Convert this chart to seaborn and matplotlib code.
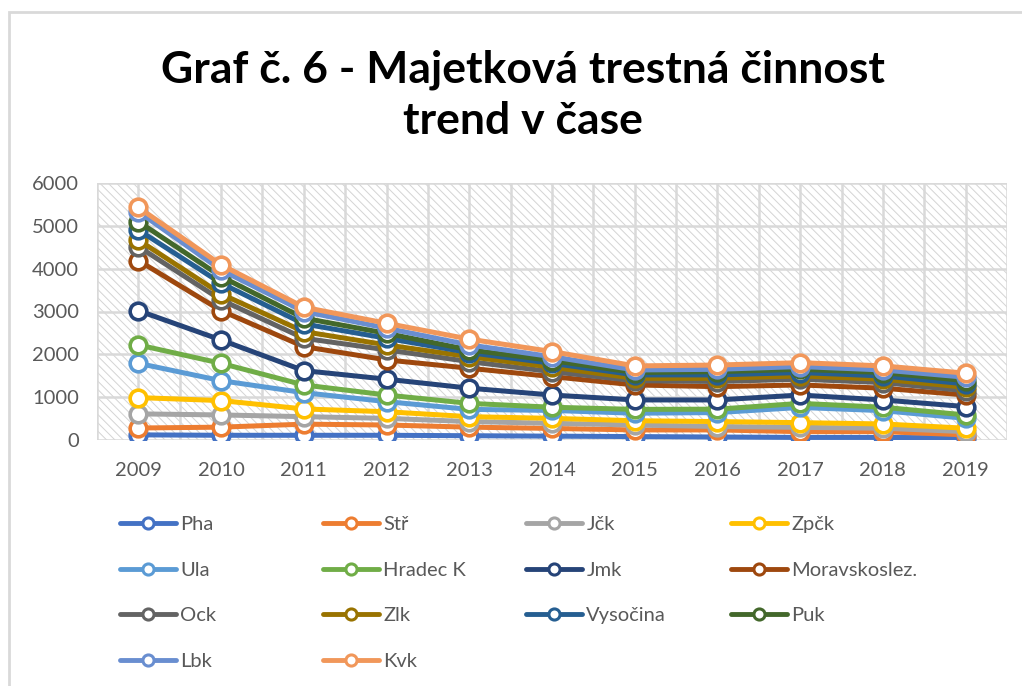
import numpy as np
import pandas as pd
import matplotlib
matplotlib.use("Agg")
import matplotlib.pyplot as plt
import seaborn as sns
from matplotlib.patches import Rectangle
from matplotlib.lines import Line2D

# ---- data ----
years = [2009, 2010, 2011, 2012, 2013, 2014, 2015, 2016, 2017, 2018, 2019]
regions = ["Pha", "Stř", "Jčk", "Zpčk", "Ula", "Hradec K", "Jmk", "Moravskoslez.",
           "Ock", "Zlk", "Vysočina", "Puk", "Lbk", "Kvk"]
pha = [120, 110, 110, 110, 100, 90, 80, 70, 60, 60, 50]
str_ = [160, 190, 260, 240, 200, 180, 155, 165, 135, 135, 70]
jck = [330, 285, 175, 155, 130, 120, 115, 80, 100, 80, 75]
zpck = [380, 335, 180, 155, 115, 115, 100, 115, 110, 100, 80]
ula = [800, 465, 380, 235, 170, 185, 175, 210, 355, 310, 230]
hradec = [430, 405, 180, 155, 140, 75, 90, 80, 95, 80, 80]
jmk = [800, 545, 335, 370, 355, 285, 220, 215, 195, 170, 195]
morav = [1170, 685, 560, 450, 465, 430, 350, 310, 235, 275, 270]
ock = [325, 250, 195, 235, 155, 115, 100, 120, 135, 130, 100]
zlk = [155, 140, 155, 115, 115, 105, 55, 75, 75, 80, 80]
vys = [235, 250, 180, 155, 95, 90, 80, 80, 80, 75, 80]
puk = [195, 155, 135, 115, 65, 65, 55, 75, 75, 80, 75]
lbk = [230, 155, 155, 120, 115, 90, 60, 55, 65, 60, 80]
kvk = [100, 120, 100, 115, 135, 120, 95, 100, 90, 95, 95]
series = [pha, str_, jck, zpck, ula, hradec, jmk, morav, ock, zlk, vys, puk, lbk, kvk]
yticks = [0, 1000, 2000, 3000, 4000, 5000, 6000]
title = "Graf č. 6 - Majetková trestná činnost\ntrend v čase"

colors = ["#4472C4", "#ED7D31", "#A5A5A5", "#FFC000", "#5B9BD5", "#70AD47", "#264478",
          "#9E480E", "#636363", "#997300", "#255E91", "#43682B", "#698ED0", "#F1975A"]

# stacked line chart: cumulative sums
cum = np.cumsum(np.array(series), axis=0)
df = pd.DataFrame({
    "year": np.tile(years, len(regions)),
    "region": np.repeat(regions, len(years)),
    "value": cum.ravel(),
})

sns.set_theme(style="white")
plt.rcParams["font.family"] = ["Lato", "DejaVu Sans"]
plt.rcParams["hatch.linewidth"] = 0.7
plt.rcParams["hatch.color"] = "#d4d4d4"

W, H = 1022, 686
fig = plt.figure(figsize=(W / 100, H / 100), dpi=100)
fig.patch.set_facecolor("white")
L, R, T, B = 97, 1007, 183, 440
ax = fig.add_axes([L / W, 1 - B / H, (R - L) / W, (B - T) / H])

# hatched background
bg = Rectangle((0, 0), 1, 1, transform=ax.transAxes, facecolor="white",
               edgecolor="#d4d4d4", hatch="\\\\\\\\", lw=0, zorder=0)
ax.add_patch(bg)
ax.set_facecolor("white")

for i, (reg, col) in enumerate(zip(regions, colors)):
    sub = df[df["region"] == reg]
    sns.lineplot(data=sub, x="year", y="value", ax=ax, color=col, lw=3.6,
                 marker="o", markersize=12, markerfacecolor="white",
                 markeredgecolor=col, markeredgewidth=2.6, zorder=3 + i,
                 legend=False)

ax.set_xlim(2008.5, 2019.5)
ax.set_ylim(0, 6000)
ax.set_xticks(years)
ax.set_xticks(np.arange(2008.5, 2019.6, 1.0), minor=True)
ax.set_yticks(yticks)
ax.set_xticklabels([str(y) for y in years])
ax.grid(True, which="both", axis="x", color="#d9d9d9", lw=1.8, zorder=1)
ax.grid(True, which="major", axis="y", color="#d9d9d9", lw=1.8, zorder=1)
ax.set_axisbelow(True)
for s in ax.spines.values():
    s.set_visible(False)
ax.tick_params(axis="both", which="both", length=0, labelsize=14.5, labelcolor="#595959")
ax.tick_params(axis="y", pad=13)
ax.tick_params(axis="x", pad=16)
ax.set_xlabel("")
ax.set_ylabel("")

# title
fig.text(523 / W, 1 - 95 / H, title, ha="center", va="center", fontsize=32,
         fontweight="bold", color="black", linespacing=1.32)

# legend in 4 uniform columns
col_x = [120, 323, 526, 731]
for j in range(4):
    idx = list(range(j, len(regions), 4))
    handles = [Line2D([], [], color=colors[k], lw=3.5, marker="o", markersize=8,
                      markerfacecolor="white", markeredgecolor=colors[k],
                      markeredgewidth=2.2) for k in idx]
    labels = [regions[k] for k in idx]
    fig.legend(handles, labels, loc="upper left",
               bbox_to_anchor=(col_x[j] / W, 1 - 516 / H),
               frameon=False, fontsize=14.5, handlelength=2.8, handletextpad=0.2,
               labelspacing=1.42, borderpad=0, borderaxespad=0, labelcolor="#595959")

# chart border (partially cropped)
fig.add_artist(Rectangle((9 / W, -0.1), 1.2, 1.1 - 12 / H, transform=fig.transFigure,
                         fill=False, edgecolor="#d9d9d9", lw=2))

fig.savefig("out.png", dpi=100)
